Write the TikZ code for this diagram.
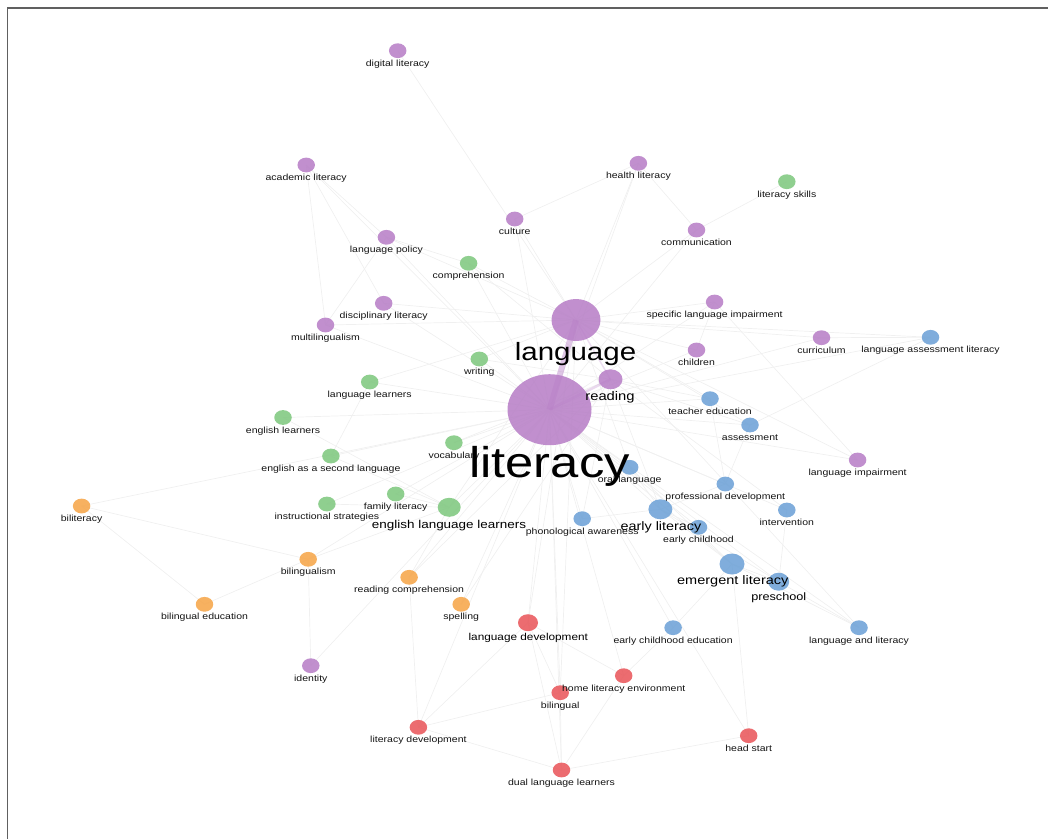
\documentclass[tikz,border=0pt]{standalone}
\usepackage{fontspec}
\setmainfont{Liberation Sans}[FakeStretch=1.18]
\usetikzlibrary{shapes.geometric}
\pgfdeclarelayer{bg}
\pgfsetlayers{bg,main}
\definecolor{cP}{HTML}{B880C7}
\definecolor{cG}{HTML}{80C880}
\definecolor{cB}{HTML}{6EA2D7}
\definecolor{cO}{HTML}{F6A64A}
\definecolor{cR}{HTML}{E9585C}
\definecolor{frame}{HTML}{606060}
\begin{document}
\begin{tikzpicture}[x=1pt,y=-1pt,
  dot/.style={ellipse, inner sep=0pt, draw=none, fill opacity=0.88, minimum width=17.5pt, minimum height=14.8pt},
  lbl/.style={anchor=base, inner sep=0pt, text=black!92, font=\fontsize{8.9}{10}\selectfont},
  big/.style={anchor=base, inner sep=0pt, text=black},
  edge/.style={draw=black!6, line width=0.7pt},
  frameline/.style={draw=frame, line width=1.3pt}]
\useasboundingbox (0,0) rectangle (1048,839);
\draw[frameline] (7.5,839) -- (7.5,8) -- (1048,8);

% ---- circles
\node[dot, fill=cP, minimum width=84pt, minimum height=71pt] (lit) at (549.5,409.7) {};
\node[dot, fill=cP, minimum width=49pt, minimum height=42pt] (lang) at (576,320) {};
\node[dot, fill=cP, minimum width=24pt, minimum height=20pt] (read) at (610.5,379.3) {};
\node[dot, fill=cP] (digital) at (397.7,50.7) {};
\node[dot, fill=cP] (academic) at (306.2,165) {};
\node[dot, fill=cP] (health) at (638.4,163.3) {};
\node[dot, fill=cP] (culture) at (514.7,219) {};
\node[dot, fill=cP] (comm) at (696.5,230) {};
\node[dot, fill=cP] (langpol) at (386.4,237.3) {};
\node[dot, fill=cP] (disc) at (383.7,303.3) {};
\node[dot, fill=cP] (multi) at (325.5,325) {};
\node[dot, fill=cP] (sli) at (714.6,302) {};
\node[dot, fill=cP] (curr) at (821.5,337.7) {};
\node[dot, fill=cP] (children) at (696.5,350) {};
\node[dot, fill=cP] (langimp) at (857.6,460) {};
\node[dot, fill=cP] (identity) at (310.8,665.7) {};

\node[dot, fill=cG] (skills) at (786.8,181.7) {};
\node[dot, fill=cG] (compr) at (468.6,263.3) {};
\node[dot, fill=cG] (writing) at (479.3,359) {};
\node[dot, fill=cG] (langlearn) at (369.7,382) {};
\node[dot, fill=cG] (englearn) at (283,417.5) {};
\node[dot, fill=cG] (vocab) at (453.9,442.7) {};
\node[dot, fill=cG] (esl) at (330.9,456) {};
\node[dot, fill=cG] (family) at (395.7,494) {};
\node[dot, fill=cG] (instr) at (326.9,504) {};
\node[dot, fill=cG, minimum width=23pt, minimum height=19pt] (ell) at (449.2,507.3) {};

\node[dot, fill=cB] (lal) at (930.5,337.3) {};
\node[dot, fill=cB] (teach) at (710,398.7) {};
\node[dot, fill=cB] (assess) at (750,425) {};
\node[dot, fill=cB] (oral) at (629.7,467.3) {};
\node[dot, fill=cB] (profdev) at (725.3,484) {};
\node[dot, fill=cB, minimum width=24pt, minimum height=20pt] (earlylit) at (660.4,509.3) {};
\node[dot, fill=cB] (interv) at (786.8,510) {};
\node[dot, fill=cB] (phon) at (582.2,518.7) {};
\node[dot, fill=cB] (earlych) at (698.5,527.3) {};
\node[dot, fill=cB, minimum width=25pt, minimum height=21pt] (emerg) at (732,564) {};
\node[dot, fill=cB, minimum width=21pt, minimum height=18pt] (presch) at (778.7,581.7) {};
\node[dot, fill=cB] (ece) at (673.1,627.7) {};
\node[dot, fill=cB] (langlit) at (859,627.7) {};

\node[dot, fill=cO] (bilit) at (81.6,506) {};
\node[dot, fill=cO] (biling) at (308.2,559.3) {};
\node[dot, fill=cO] (readcomp) at (409.1,577.3) {};
\node[dot, fill=cO] (biled) at (204.5,604.3) {};
\node[dot, fill=cO] (spell) at (461.2,604.3) {};

\node[dot, fill=cR, minimum width=20pt, minimum height=17pt] (langdev) at (528,622.7) {};
\node[dot, fill=cR] (hle) at (623.7,675.7) {};
\node[dot, fill=cR] (bilingual) at (560.2,692.7) {};
\node[dot, fill=cR] (litdev) at (418.4,727.3) {};
\node[dot, fill=cR] (head) at (748.7,735.7) {};
\node[dot, fill=cR] (dll) at (561.5,770) {};

% ---- edges (behind)
\begin{pgfonlayer}{bg}
\foreach \a in {academic,health,comm,langpol,compr,disc,multi,sli,curr,children,langimp,writing,langlearn,englearn,vocab,esl,family,instr,ell,lal,teach,assess,oral,profdev,earlylit,interv,phon,earlych,emerg,presch,ece,langlit,bilit,biling,readcomp,spell,langdev,hle,bilingual,litdev,dll,head,identity,culture}
  \draw[edge] (lit.center) -- (\a.center);
\foreach \a in {digital,culture,comm,sli,curr,children,langimp,disc,multi,langpol,writing,langlearn,ell,langdev,bilingual,assess,lal,teach,oral,langlit,compr,health}
  \draw[edge] (lang.center) -- (\a.center);
\foreach \a in {compr,writing,vocab,readcomp,spell,phon,earlylit,teach,assess,interv}
  \draw[edge] (read.center) -- (\a.center);
\foreach \a/\b in {academic/multi,academic/disc,academic/langpol,health/culture,health/comm,skills/comm,sli/langimp,sli/children,curr/lal,lal/assess,teach/profdev,assess/profdev,oral/earlylit,oral/emerg,profdev/earlylit,earlylit/emerg,earlylit/presch,earlylit/earlych,earlylit/phon,interv/presch,emerg/presch,emerg/ece,emerg/langlit,presch/langlit,emerg/head,ece/hle,langdev/bilingual,langdev/dll,langdev/litdev,langdev/hle,hle/dll,bilingual/litdev,bilingual/dll,litdev/readcomp,litdev/dll,head/dll,bilit/biling,bilit/biled,biling/biled,biling/identity,biling/ell,readcomp/ell,instr/ell,esl/ell,englearn/ell,family/ell,langpol/multi,langlearn/esl,langpol/compr}
  \draw[edge] (\a.center) -- (\b.center);
\draw[draw=cP, draw opacity=0.45, line width=6pt] (lit.center) -- (lang.center);
\draw[draw=cP, draw opacity=0.3, line width=2.5pt] (lit.center) -- (read.center);
\draw[draw=cP, draw opacity=0.25, line width=1.5pt] (lang.center) -- (read.center);
\end{pgfonlayer}

% ---- small labels
\node[lbl] (digital-l) at (397.7,66) {digital literacy};
\node[lbl] (academic-l) at (306.2,180.5) {academic literacy};
\node[lbl] (health-l) at (638.4,178.8) {health literacy};
\node[lbl] (culture-l) at (514.7,234.5) {culture};
\node[lbl] (comm-l) at (696.5,245.5) {communication};
\node[lbl] (langpol-l) at (386.4,252.8) {language policy};
\node[lbl] (disc-l) at (383.7,318.8) {disciplinary literacy};
\node[lbl] (multi-l) at (325.5,340.5) {multilingualism};
\node[lbl] (sli-l) at (714.6,317.5) {specific language impairment};
\node[lbl] (curr-l) at (821.5,353.2) {curriculum};
\node[lbl] (children-l) at (696.5,365.5) {children};
\node[lbl] (langimp-l) at (857.6,475.5) {language impairment};
\node[lbl] (identity-l) at (310.8,681.2) {identity};

\node[lbl] (skills-l) at (786.8,197.2) {literacy skills};
\node[lbl] (compr-l) at (468.6,278.8) {comprehension};
\node[lbl] (writing-l) at (479.3,374.5) {writing};
\node[lbl] (langlearn-l) at (369.7,397.5) {language learners};
\node[lbl] (englearn-l) at (283,433) {english learners};
\node[lbl] (vocab-l) at (453.9,458.2) {vocabulary};
\node[lbl] (esl-l) at (330.9,471.5) {english as a second language};
\node[lbl] (family-l) at (395.7,509.5) {family literacy};
\node[lbl] (instr-l) at (326.9,519.5) {instructional strategies};

\node[lbl] (lal-l) at (930.5,352.8) {language assessment literacy};
\node[lbl] (teach-l) at (710,414.2) {teacher education};
\node[lbl] (assess-l) at (750,440.5) {assessment};
\node[lbl] (oral-l) at (629.7,482.8) {oral language};
\node[lbl] (profdev-l) at (725.3,499.5) {professional development};
\node[lbl] (interv-l) at (786.8,525.5) {intervention};
\node[lbl] (phon-l) at (582.2,534.2) {phonological awareness};
\node[lbl] (earlych-l) at (698.5,542.8) {early childhood};
\node[lbl] (ece-l) at (673.1,643.2) {early childhood education};
\node[lbl] (langlit-l) at (859,643.2) {language and literacy};

\node[lbl] (bilit-l) at (81.6,521.5) {biliteracy};
\node[lbl] (biling-l) at (308.2,574.8) {bilingualism};
\node[lbl] (readcomp-l) at (409.1,592.8) {reading comprehension};
\node[lbl] (biled-l) at (204.5,619.8) {bilingual education};
\node[lbl] (spell-l) at (461.2,619.8) {spelling};

\node[lbl] (hle-l) at (623.7,691.2) {home literacy environment};
\node[lbl] (bilingual-l) at (560.2,708.2) {bilingual};
\node[lbl] (litdev-l) at (418.4,742.8) {literacy development};
\node[lbl] (head-l) at (748.7,751.2) {head start};
\node[lbl] (dll-l) at (561.5,785) {dual language learners};

% ---- larger labels
\node[big, font=\fontsize{10}{12}\selectfont] (langdev-l) at (528.3,640) {language development};
\node[big, font=\fontsize{10.75}{13}\selectfont] (presch-l) at (778.8,600) {preschool};
\node[big, font=\fontsize{12.3}{14}\selectfont] (emerg-l) at (732.8,584) {emergent literacy};
\node[big, font=\fontsize{12.2}{14}\selectfont] (earlylit-l) at (661,530) {early literacy};
\node[big, font=\fontsize{11.4}{14}\selectfont] (ell-l) at (449,528.3) {english language learners};
\node[big, font=\fontsize{12.5}{15}\selectfont] (read-l) at (610,400.5) {reading};
\node[big, font=\fontsize{25}{30}\selectfont] (lang-l) at (575.5,360) {language};
\node[big, font=\fontsize{43}{50}\selectfont] (lit-l) at (549.5,477) {literacy};
\end{tikzpicture}
\end{document}
